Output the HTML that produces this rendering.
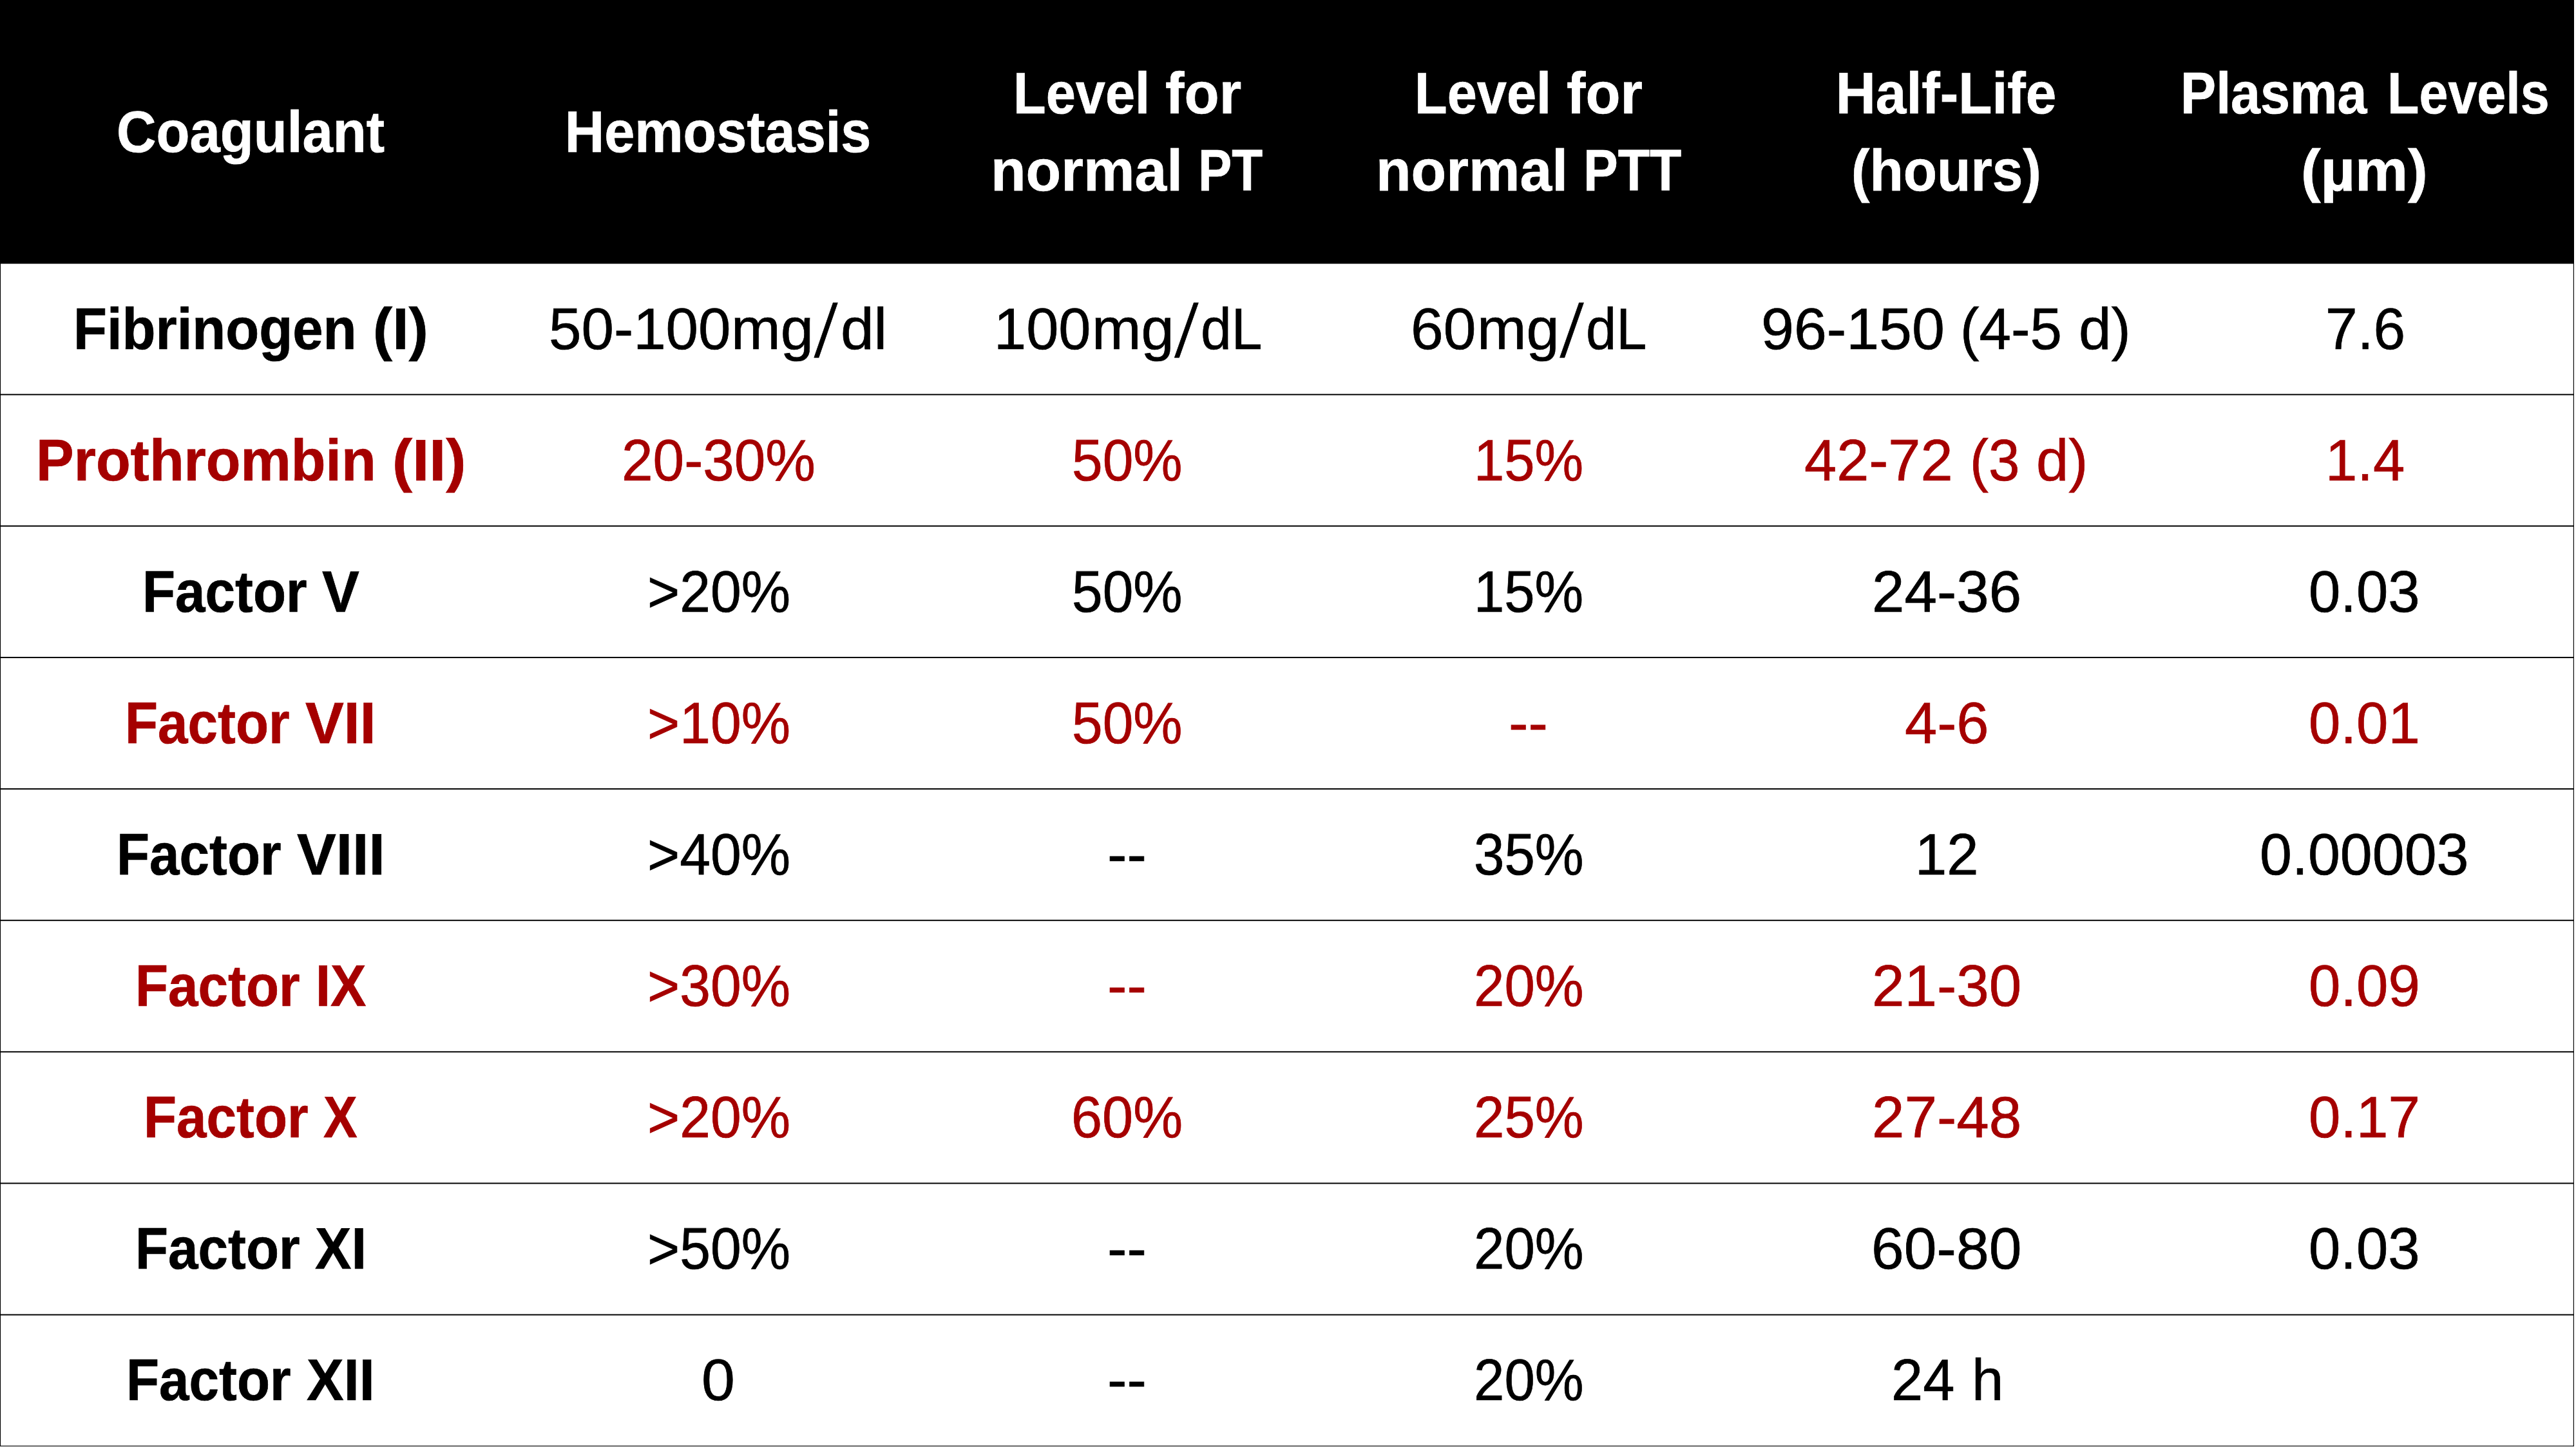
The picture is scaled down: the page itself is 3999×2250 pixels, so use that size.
<!DOCTYPE html>
<html lang="en"><head><meta charset="utf-8"><title>Coagulation factors</title>
<style>
html,body{margin:0;padding:0;background:#fff;}
body{width:3999px;height:2250px;position:relative;overflow:hidden;font-family:"Liberation Sans",sans-serif;}
.t{position:absolute;white-space:pre;line-height:1;transform-origin:0 0;font-size:91px;font-weight:400;-webkit-text-stroke:0.7px currentColor;}
.b{font-size:91px;font-weight:700;-webkit-text-stroke:0.7px currentColor;}
.w{color:#fff;} .r{color:#A50000;} .k{color:#000;}
</style></head><body>
<svg width="3999" height="2250" viewBox="0 0 3999 2250" style="position:absolute;left:0;top:0"><rect x="0" y="0" width="3995.8" height="409.55" fill="#000"/><rect x="0" y="611.68" width="3995.5" height="1.96" fill="#000"/><rect x="0" y="815.81" width="3995.5" height="1.96" fill="#000"/><rect x="0" y="1019.94" width="3995.5" height="1.96" fill="#000"/><rect x="0" y="1224.07" width="3995.5" height="1.96" fill="#000"/><rect x="0" y="1428.20" width="3995.5" height="1.96" fill="#000"/><rect x="0" y="1632.33" width="3995.5" height="1.96" fill="#000"/><rect x="0" y="1836.46" width="3995.5" height="1.96" fill="#000"/><rect x="0" y="2040.59" width="3995.5" height="1.96" fill="#000"/><rect x="0" y="2244.8" width="3995.95" height="1.15" fill="#000"/><rect x="0" y="0" width="1.08" height="2245.95" fill="#000"/><rect x="3994.8" y="0" width="1.15" height="2245.95" fill="#000"/></svg>
<div class="t b w" style="left:180.8px;top:159.0px;transform:scaleX(0.9354)">Coagulant</div>
<div class="t b w" style="left:877.4px;top:159.0px;transform:scaleX(0.9307)">Hemostasis</div>
<div class="t b w" style="left:1573.2px;top:99.0px;transform:scaleX(0.9113)">Level</div>
<div class="t b w" style="left:1808.9px;top:99.0px;transform:scaleX(0.9748)">for</div>
<div class="t b w" style="left:1538.3px;top:219.0px;transform:scaleX(0.9821)">normal</div>
<div class="t b w" style="left:1859.9px;top:219.0px;transform:scaleX(0.8609)">PT</div>
<div class="t b w" style="left:2195.9px;top:99.0px;transform:scaleX(0.9113)">Level</div>
<div class="t b w" style="left:2431.6px;top:99.0px;transform:scaleX(0.9731)">for</div>
<div class="t b w" style="left:2135.7px;top:219.0px;transform:scaleX(0.9825)">normal</div>
<div class="t b w" style="left:2457.6px;top:219.0px;transform:scaleX(0.8855)">PTT</div>
<div class="t b w" style="left:2850.4px;top:99.0px;transform:scaleX(0.9406)">Half-Life</div>
<div class="t b w" style="left:2874.4px;top:219.0px;transform:scaleX(0.9407)">(hours)</div>
<div class="t b w" style="left:3385.2px;top:99.0px;transform:scaleX(0.9083)">Plasma</div>
<div class="t b w" style="left:3705.8px;top:99.0px;transform:scaleX(0.8887)">Levels</div>
<div class="t b w" style="left:3572.0px;top:219.0px;transform:scaleX(1.0145)">(µm)</div>
<div class="t b k" style="left:114.4px;top:464.8px;transform:scaleX(0.9351)">Fibrinogen</div>
<div class="t b k" style="left:578.5px;top:464.8px;transform:scaleX(0.9962)">(I)</div>
<div class="t k" style="left:852.4px;top:464.8px;transform:scaleX(0.9971)">50-100</div>
<div class="t k" style="left:1135.4px;top:464.8px;transform:scaleX(1.0130)">mg</div>
<div class="t k" style="left:1277.3px;top:456.4px;transform:skewX(-7.50deg) scaleY(1.2701)">/</div>
<div class="t k" style="left:1304.9px;top:464.8px;transform:scaleX(1.0194)">dl</div>
<div class="t k" style="left:1542.8px;top:464.8px;transform:scaleX(0.9915)">100</div>
<div class="t k" style="left:1694.5px;top:464.8px;transform:scaleX(1.0087)">mg</div>
<div class="t k" style="left:1836.5px;top:456.4px;transform:skewX(-7.83deg) scaleY(1.2701)">/</div>
<div class="t k" style="left:1863.8px;top:464.8px;transform:scaleX(0.9432)">dL</div>
<div class="t k" style="left:2190.4px;top:464.8px;transform:scaleX(1.0021)">60</div>
<div class="t k" style="left:2292.6px;top:464.8px;transform:scaleX(1.0087)">mg</div>
<div class="t k" style="left:2434.5px;top:456.4px;transform:skewX(-7.76deg) scaleY(1.2701)">/</div>
<div class="t k" style="left:2462.2px;top:464.8px;transform:scaleX(0.9316)">dL</div>
<div class="t k" style="left:2734.4px;top:464.8px;transform:scaleX(1.0054)">96-150</div>
<div class="t k" style="left:3042.8px;top:464.8px;transform:scaleX(0.9765)">(4-5</div>
<div class="t k" style="left:3226.9px;top:464.8px;transform:scaleX(0.9959)">d)</div>
<div class="t k" style="left:3609.8px;top:464.8px;transform:scaleX(0.9815)">7.6</div>
<div class="t b r" style="left:56.1px;top:668.8px;transform:scaleX(0.9664)">Prothrombin</div>
<div class="t b r" style="left:608.5px;top:668.8px;transform:scaleX(1.0282)">(II)</div>
<div class="t r" style="left:964.8px;top:668.8px;transform:scaleX(0.9596)">20-30%</div>
<div class="t r" style="left:1664.2px;top:668.8px;transform:scaleX(0.9420)">50%</div>
<div class="t r" style="left:2288.0px;top:668.8px;transform:scaleX(0.9343)">15%</div>
<div class="t r" style="left:2801.0px;top:668.8px;transform:scaleX(0.9912)">42-72</div>
<div class="t r" style="left:3057.8px;top:668.8px;transform:scaleX(0.9569)">(3</div>
<div class="t r" style="left:3160.8px;top:668.8px;transform:scaleX(0.9918)">d)</div>
<div class="t r" style="left:3609.6px;top:668.8px;transform:scaleX(0.9752)">1.4</div>
<div class="t b k" style="left:221.2px;top:872.8px;transform:scaleX(0.9188)">Factor</div>
<div class="t b k" style="left:500.0px;top:872.8px;transform:scaleX(0.9517)">V</div>
<div class="t k" style="left:1004.7px;top:872.8px;transform:scaleX(0.9434)">&gt;20%</div>
<div class="t k" style="left:1664.2px;top:872.8px;transform:scaleX(0.9420)">50%</div>
<div class="t k" style="left:2288.0px;top:872.8px;transform:scaleX(0.9343)">15%</div>
<div class="t k" style="left:2905.9px;top:872.8px;transform:scaleX(0.9973)">24-36</div>
<div class="t k" style="left:3583.9px;top:872.8px;transform:scaleX(0.9747)">0.03</div>
<div class="t b r" style="left:194.4px;top:1076.8px;transform:scaleX(0.9188)">Factor</div>
<div class="t b r" style="left:473.9px;top:1076.8px;transform:scaleX(0.9849)">VII</div>
<div class="t r" style="left:1004.7px;top:1076.8px;transform:scaleX(0.9434)">&gt;10%</div>
<div class="t r" style="left:1664.2px;top:1076.8px;transform:scaleX(0.9420)">50%</div>
<div class="t r" style="left:2341.7px;top:1076.8px;transform:scaleX(1.0038)">--</div>
<div class="t r" style="left:2956.8px;top:1076.8px;transform:scaleX(0.9921)">4-6</div>
<div class="t r" style="left:3583.9px;top:1076.8px;transform:scaleX(0.9765)">0.01</div>
<div class="t b k" style="left:181.0px;top:1280.8px;transform:scaleX(0.9188)">Factor</div>
<div class="t b k" style="left:460.7px;top:1280.8px;transform:scaleX(1.0015)">VIII</div>
<div class="t k" style="left:1004.7px;top:1280.8px;transform:scaleX(0.9434)">&gt;40%</div>
<div class="t k" style="left:1718.8px;top:1280.8px;transform:scaleX(1.0038)">--</div>
<div class="t k" style="left:2287.5px;top:1280.8px;transform:scaleX(0.9369)">35%</div>
<div class="t k" style="left:2972.6px;top:1280.8px;transform:scaleX(0.9733)">12</div>
<div class="t k" style="left:3507.6px;top:1280.8px;transform:scaleX(0.9866)">0.00003</div>
<div class="t b r" style="left:210.0px;top:1484.8px;transform:scaleX(0.9188)">Factor</div>
<div class="t b r" style="left:489.5px;top:1484.8px;transform:scaleX(0.9127)">IX</div>
<div class="t r" style="left:1004.7px;top:1484.8px;transform:scaleX(0.9434)">&gt;30%</div>
<div class="t r" style="left:1718.8px;top:1484.8px;transform:scaleX(1.0038)">--</div>
<div class="t r" style="left:2287.6px;top:1484.8px;transform:scaleX(0.9366)">20%</div>
<div class="t r" style="left:2905.9px;top:1484.8px;transform:scaleX(0.9978)">21-30</div>
<div class="t r" style="left:3583.9px;top:1484.8px;transform:scaleX(0.9765)">0.09</div>
<div class="t b r" style="left:222.9px;top:1688.8px;transform:scaleX(0.9188)">Factor</div>
<div class="t b r" style="left:502.1px;top:1688.8px;transform:scaleX(0.8678)">X</div>
<div class="t r" style="left:1004.7px;top:1688.8px;transform:scaleX(0.9434)">&gt;20%</div>
<div class="t r" style="left:1662.7px;top:1688.8px;transform:scaleX(0.9503)">60%</div>
<div class="t r" style="left:2287.6px;top:1688.8px;transform:scaleX(0.9366)">25%</div>
<div class="t r" style="left:2905.9px;top:1688.8px;transform:scaleX(0.9973)">27-48</div>
<div class="t r" style="left:3583.9px;top:1688.8px;transform:scaleX(0.9765)">0.17</div>
<div class="t b k" style="left:210.0px;top:1892.8px;transform:scaleX(0.9188)">Factor</div>
<div class="t b k" style="left:489.1px;top:1892.8px;transform:scaleX(0.9291)">XI</div>
<div class="t k" style="left:1004.7px;top:1892.8px;transform:scaleX(0.9434)">&gt;50%</div>
<div class="t k" style="left:1718.8px;top:1892.8px;transform:scaleX(1.0038)">--</div>
<div class="t k" style="left:2287.6px;top:1892.8px;transform:scaleX(0.9366)">20%</div>
<div class="t k" style="left:2904.8px;top:1892.8px;transform:scaleX(1.0027)">60-80</div>
<div class="t k" style="left:3583.9px;top:1892.8px;transform:scaleX(0.9747)">0.03</div>
<div class="t b k" style="left:196.3px;top:2096.8px;transform:scaleX(0.9188)">Factor</div>
<div class="t b k" style="left:475.8px;top:2096.8px;transform:scaleX(0.9495)">XII</div>
<div class="t k" style="left:1089.3px;top:2096.8px;transform:scaleX(1.0250)">0</div>
<div class="t k" style="left:1718.8px;top:2096.8px;transform:scaleX(1.0038)">--</div>
<div class="t k" style="left:2287.6px;top:2096.8px;transform:scaleX(0.9366)">20%</div>
<div class="t k" style="left:2935.9px;top:2096.8px;transform:scaleX(0.9726)">24</div>
<div class="t k" style="left:3060.6px;top:2096.8px;transform:scaleX(0.9744)">h</div>
</body></html>
